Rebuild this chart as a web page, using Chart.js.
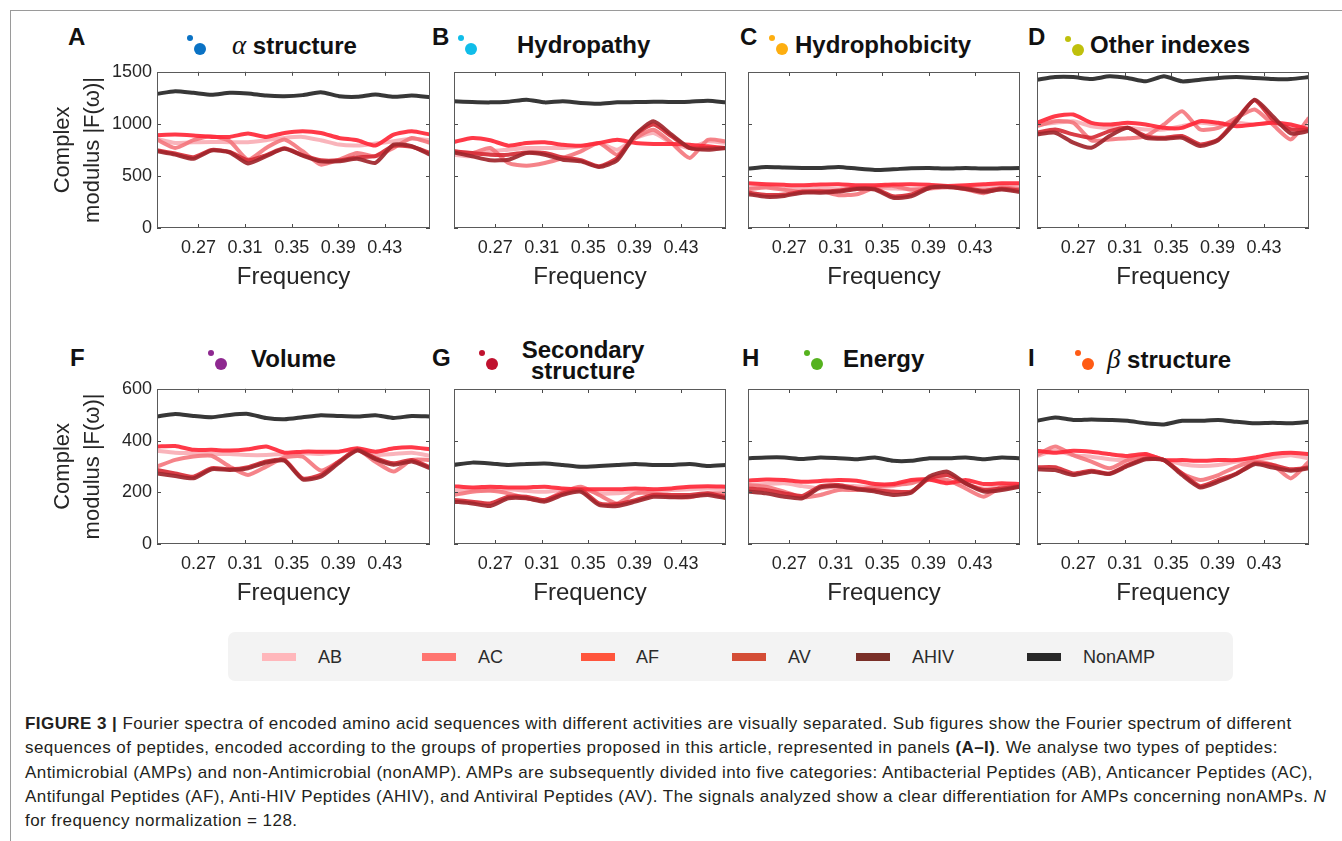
<!DOCTYPE html>
<html>
<head>
<meta charset="utf-8">
<script src="https://cdn.jsdelivr.net/npm/chart.js@4.4.1/dist/chart.umd.min.js"></script>
<style>
body{margin:0;background:#fff;width:1342px;height:841px;overflow:hidden;position:relative;font-family:"Liberation Sans",Arial,sans-serif;color:#1a1a1a}
.abs{position:absolute}
.frame{left:10px;top:10px;right:0;bottom:0;border-left:1px solid #9a9a9a;border-top:1px solid #9a9a9a}
.letter{font-weight:bold;font-size:24px;line-height:24px;color:#111}
.ttl{font-weight:bold;font-size:24px;line-height:24px;color:#111;white-space:nowrap}
.greek{font-family:"Liberation Serif","DejaVu Serif",serif;font-style:italic;font-weight:normal;font-size:27px}
.dot{border-radius:50%}
#legend{left:228px;top:632px;width:1005px;height:49px;background:#f3f3f3;border-radius:7px}
.sw{height:8px;width:34px}
.lab{font-size:18px;line-height:20px;color:#2b2b2b}
#caption{left:25px;top:712px;font-size:17px;letter-spacing:0.44px;line-height:24.3px;white-space:nowrap;color:#231f20}
</style>
</head>
<body>
<div class="abs frame"></div>

<div class="abs letter" style="left:68px;top:25px">A</div>
<div class="abs letter" style="left:432px;top:25px">B</div>
<div class="abs letter" style="left:740px;top:25px">C</div>
<div class="abs letter" style="left:1028px;top:25px">D</div>
<div class="abs letter" style="left:70px;top:346px">F</div>
<div class="abs letter" style="left:432px;top:346px">G</div>
<div class="abs letter" style="left:742px;top:346px">H</div>
<div class="abs letter" style="left:1028px;top:346px">I</div>

<div class="abs ttl" style="left:232px;top:33px"><span class="greek">α</span> structure</div>
<div class="abs ttl" style="left:517px;top:33px">Hydropathy</div>
<div class="abs ttl" style="left:795px;top:33px">Hydrophobicity</div>
<div class="abs ttl" style="left:1090px;top:33px">Other indexes</div>
<div class="abs ttl" style="left:251px;top:347px">Volume</div>
<div class="abs ttl" style="left:483px;top:339px;width:200px;text-align:center;line-height:21px">Secondary<br>structure</div>
<div class="abs ttl" style="left:843px;top:347px">Energy</div>
<div class="abs ttl" style="left:1107px;top:347px"><span class="greek">β</span> structure</div>

<div id="dots"></div>
<div id="charts"></div>
<div id="legend" class="abs"></div>

<div id="caption" class="abs">
<b>FIGURE 3 |</b> Fourier spectra of encoded amino acid sequences with different activities are visually separated. Sub figures show the Fourier spectrum of different<br>
sequences of peptides, encoded according to the groups of properties proposed in this article, represented in panels <b>(A–I)</b>. We analyse two types of peptides:<br>
Antimicrobial (AMPs) and non-Antimicrobial (nonAMP). AMPs are subsequently divided into five categories: Antibacterial Peptides (AB), Anticancer Peptides (AC),<br>
Antifungal Peptides (AF), Anti-HIV Peptides (AHIV), and Antiviral Peptides (AV). The signals analyzed show a clear differentiation for AMPs concerning nonAMPs. <i>N</i><br>
for frequency normalization = 128.
</div>

<script>
// frequency samples (k/128) and axis ticks
const freqs = [0.234375, 0.25, 0.265625, 0.28125, 0.296875, 0.3125, 0.328125, 0.34375,
               0.359375, 0.375, 0.390625, 0.40625, 0.421875, 0.4375, 0.453125, 0.46875];
const xTickVals = [0.27, 0.31, 0.35, 0.39, 0.43];
const yTicksTop = [0, 500, 1000, 1500];
const yTicksBottom = [0, 200, 400, 600];

const seriesNames = ['AB', 'AC', 'AF', 'AV', 'AHIV', 'NonAMP'];
const lineColors = ['rgba(248,172,180,0.9)', 'rgba(244,118,124,0.9)', 'rgba(255,40,56,0.92)',
                    'rgba(214,44,54,0.92)', 'rgba(160,38,44,0.92)', 'rgba(44,44,44,0.95)'];
const legendColors = ['#ffb7bb', '#ff7570', '#ff553c', '#d44d36', '#7a2f28', '#282828'];

// A - alpha structure
const A_AB   = [856,817,824,827,824,824,843,865,875,843,801,792,811,833,856,843];
const A_AC   = [849,769,843,881,833,657,769,849,737,609,657,721,689,769,865,817];
const A_AF   = [891,897,888,875,875,907,875,913,929,913,865,843,792,897,929,897];
const A_AV   = [747,715,680,750,730,650,700,765,700,650,650,680,690,790,780,720];
const A_AHIV = [737,705,665,745,725,620,690,760,695,640,640,665,625,800,785,705];
const A_NON  = [1288,1314,1298,1279,1298,1292,1272,1266,1276,1304,1266,1260,1282,1260,1272,1256];

// B - hydropathy
const B_AB   = [705,689,737,753,769,769,769,785,817,753,865,913,817,769,833,817];
const B_AC   = [737,721,769,625,599,625,673,737,817,705,865,945,817,673,849,833];
const B_AF   = [827,865,843,792,817,824,801,792,817,849,817,808,808,801,785,769];
const B_AV   = [737,721,705,705,727,721,679,651,593,673,897,994,881,769,769,769];
const B_AHIV = [727,689,651,657,721,705,657,641,587,651,897,1026,897,769,753,769];
const B_NON  = [1218,1211,1208,1215,1234,1208,1218,1202,1195,1208,1211,1215,1211,1215,1224,1208];

// C - hydrophobicity
const C_AB   = [389,399,380,373,380,373,389,389,380,373,380,389,399,399,405,399];
const C_AC   = [373,389,367,348,357,316,325,389,405,367,380,399,373,335,389,373];
const C_AF   = [431,421,415,411,418,421,411,411,418,421,415,405,411,421,431,431];
const C_AV   = [341,318,322,350,350,360,383,378,305,322,392,400,383,360,378,360];
const C_AHIV = [325,300,308,340,340,350,376,370,290,305,385,395,376,348,370,345];
const C_NON  = [571,587,581,577,577,587,571,558,565,574,577,571,577,571,574,577];

// D - other indexes
const D_AB   = [995,1011,1027,979,963,963,947,947,979,1011,995,1011,995,1011,963,979];
const D_AC   = [979,1027,1011,843,852,862,884,995,1123,947,963,1059,1139,995,852,1059];
const D_AF   = [1011,1075,1091,1011,995,1011,995,963,963,1027,1011,979,995,1011,995,947];
const D_AV   = [916,947,900,868,932,963,884,868,884,804,852,1043,1228,1043,947,947];
const D_AHIV = [900,916,820,772,884,963,868,858,868,788,846,1027,1234,1075,909,932];
const D_NON  = [1426,1451,1451,1432,1458,1442,1410,1458,1410,1426,1442,1451,1442,1432,1432,1451];

// F - volume
const F_AB   = [361,353,351,348,348,344,344,348,351,348,357,364,344,348,353,341];
const F_AC   = [299,325,338,341,299,267,299,335,338,284,319,364,318,280,325,325];
const F_AF   = [377,379,364,364,361,366,377,353,357,357,357,370,357,370,374,366];
const F_AV   = [286,273,260,293,289,297,319,325,254,267,319,364,332,312,325,297];
const F_AHIV = [273,263,254,289,286,293,315,322,250,260,314,361,328,306,319,293];
const F_NON  = [493,503,495,490,499,503,487,482,490,498,495,493,498,487,495,493];

// G - secondary structure
const G_AB   = [206,209,209,212,206,202,209,215,196,196,202,202,209,212,215,212];
const G_AC   = [190,202,206,196,177,170,202,222,190,157,196,196,183,181,196,196];
const G_AF   = [224,219,222,219,219,222,215,212,212,212,215,212,215,222,224,222];
const G_AV   = [170,164,157,183,183,170,196,209,157,155,170,190,190,190,196,181];
const G_AHIV = [164,157,147,177,177,164,190,202,151,147,164,183,181,183,190,177];
const G_NON  = [306,315,312,306,310,312,306,299,302,306,310,306,306,310,302,306];

// H - energy
const H_AB   = [228,232,235,224,215,222,224,219,224,241,248,241,228,215,222,224];
const H_AC   = [228,222,203,181,190,209,209,222,228,235,254,248,215,183,222,222];
const H_AF   = [245,250,248,241,244,248,245,232,232,248,250,235,248,232,235,232];
const H_AV   = [215,209,196,186,224,228,215,209,203,203,254,267,235,209,215,224];
const H_AHIV = [203,196,183,177,219,224,212,203,190,199,261,280,235,203,209,222];
const H_NON  = [332,335,335,329,335,332,328,335,322,322,332,332,335,328,335,332];

// I - beta structure
const I_AB   = [341,361,344,338,328,325,335,325,309,302,306,319,325,335,344,331];
const I_AC   = [344,377,344,319,293,325,344,325,273,248,267,299,319,306,254,319];
const I_AF   = [361,353,361,357,348,341,348,325,325,322,325,325,335,348,353,348];
const I_AV   = [297,297,273,284,273,306,331,325,273,224,248,273,312,306,289,297];
const I_AHIV = [289,286,267,280,271,302,328,325,267,219,241,271,309,296,284,293];
const I_NON  = [477,490,480,482,480,477,467,463,477,477,480,473,467,469,467,473];

const panels = [
    {series: [A_AB, A_AC, A_AF, A_AV, A_AHIV, A_NON], yTicks: yTicksTop, left: 157, top: 72, w: 273, h: 156, yLabels: true},
    {series: [B_AB, B_AC, B_AF, B_AV, B_AHIV, B_NON], yTicks: yTicksTop, left: 454, top: 72, w: 272, h: 156, yLabels: false},
    {series: [C_AB, C_AC, C_AF, C_AV, C_AHIV, C_NON], yTicks: yTicksTop, left: 748, top: 72, w: 272, h: 156, yLabels: false},
    {series: [D_AB, D_AC, D_AF, D_AV, D_AHIV, D_NON], yTicks: yTicksTop, left: 1037, top: 72, w: 272, h: 156, yLabels: false},
    {series: [F_AB, F_AC, F_AF, F_AV, F_AHIV, F_NON], yTicks: yTicksBottom, left: 157, top: 389, w: 273, h: 155, yLabels: true},
    {series: [G_AB, G_AC, G_AF, G_AV, G_AHIV, G_NON], yTicks: yTicksBottom, left: 454, top: 389, w: 272, h: 155, yLabels: false},
    {series: [H_AB, H_AC, H_AF, H_AV, H_AHIV, H_NON], yTicks: yTicksBottom, left: 748, top: 389, w: 272, h: 155, yLabels: false},
    {series: [I_AB, I_AC, I_AF, I_AV, I_AHIV, I_NON], yTicks: yTicksBottom, left: 1037, top: 389, w: 272, h: 155, yLabels: false}
];

// title dots: [cx, cy, colour] small dot then big dot offset
const dotSpots = [[190,38,'#0a72c4'], [461,38,'#10bde9'], [772,38,'#fdae10'], [1068,39,'#bfc00c'],
                  [211,353,'#8e2890'], [482,353,'#c0122f'], [807,353,'#55b21e'], [1078,353,'#ff5b14']];

var dotsBox = document.getElementById('dots');
dotSpots.forEach(function(d) {
    var s = document.createElement('div');
    s.className = 'abs dot';
    s.style.cssText = 'left:' + (d[0] - 3) + 'px;top:' + (d[1] - 3) + 'px;width:6px;height:6px;background:' + d[2];
    dotsBox.appendChild(s);
    var b = document.createElement('div');
    b.className = 'abs dot';
    b.style.cssText = 'left:' + (d[0] + 4) + 'px;top:' + (d[1] + 5) + 'px;width:12px;height:12px;background:' + d[2];
    dotsBox.appendChild(b);
});

// legend
const legendSwatchX = [34, 194, 353, 504, 628, 799];
const legendLabelX = [90, 250, 408, 560, 684, 855];
var legendBox = document.getElementById('legend');
seriesNames.forEach(function(name, i) {
    var sw = document.createElement('div');
    sw.className = 'abs sw';
    sw.style.cssText = 'left:' + legendSwatchX[i] + 'px;top:21px;background:' + legendColors[i];
    legendBox.appendChild(sw);
    var lb = document.createElement('div');
    lb.className = 'abs lab';
    lb.style.cssText = 'left:' + legendLabelX[i] + 'px;top:15px';
    lb.textContent = name;
    legendBox.appendChild(lb);
});

// box with inward ticks, like the matlab axes
const boxTicks = {
    id: 'boxTicks',
    afterDatasetsDraw(chart) {
        const ctx = chart.ctx, a = chart.chartArea;
        const x = chart.scales.x, y = chart.scales.y;
        ctx.save();
        ctx.strokeStyle = '#4a4a4a';
        ctx.lineWidth = 1;
        ctx.beginPath();
        x.ticks.forEach(function(t) {
            var px = Math.round(x.getPixelForValue(t.value)) + 0.5;
            ctx.moveTo(px, a.bottom); ctx.lineTo(px, a.bottom - 4);
            ctx.moveTo(px, a.top); ctx.lineTo(px, a.top + 4);
        });
        y.ticks.forEach(function(t) {
            var py = Math.round(y.getPixelForValue(t.value)) + 0.5;
            ctx.moveTo(a.left, py); ctx.lineTo(a.left + 4, py);
            ctx.moveTo(a.right, py); ctx.lineTo(a.right - 4, py);
        });
        ctx.stroke();
        ctx.strokeStyle = '#5a5a5a';
        ctx.strokeRect(Math.round(a.left) + 0.5, Math.round(a.top) + 0.5, Math.round(a.width) - 1, Math.round(a.height) - 1);
        ctx.restore();
    }
};

Chart.defaults.font.family = '"Liberation Sans", Arial, sans-serif';

function makePanel(p, lpad, W, H) {
    var holder = document.createElement('div');
    holder.className = 'abs';
    var canvas = document.createElement('canvas');
    canvas.width = W; canvas.height = H;
    canvas.style.width = W + 'px'; canvas.style.height = H + 'px';
    holder.appendChild(canvas);
    document.getElementById('charts').appendChild(holder);

    // NonAMP first so it sits on top, AB drawn underneath
    var datasets = [5, 4, 3, 2, 1, 0].map(function(k) {
        return {
            label: seriesNames[k],
            data: freqs.map(function(f, i) { return {x: f, y: p.series[k][i]}; }),
            borderColor: lineColors[k],
            borderWidth: 4,
            pointRadius: 0,
            pointHoverRadius: 0,
            tension: 0.2,
            clip: 0
        };
    });

    var chart = new Chart(canvas, {
        type: 'line',
        data: {datasets: datasets},
        plugins: [boxTicks],
        options: {
            responsive: false,
            animation: false,
            layout: {padding: {top: 10, right: 10, left: 0, bottom: 0}},
            plugins: {legend: {display: false}, tooltip: {enabled: false}},
            scales: {
                x: {
                    type: 'linear', min: 30 / 128, max: 60 / 128,
                    afterBuildTicks: function(s) { s.ticks = xTickVals.map(function(v) { return {value: v}; }); },
                    afterFit: function(s) { s.height = 64; },
                    grid: {display: false, drawTicks: false},
                    border: {display: false},
                    ticks: {font: {size: 18}, color: '#262626', padding: 9, maxRotation: 0, autoSkip: false,
                            callback: function(v) { return v.toFixed(2); }},
                    title: {display: true, text: 'Frequency', font: {size: 24}, color: '#262626', padding: {top: 0, bottom: 0}}
                },
                y: {
                    type: 'linear', min: 0, max: p.yTicks[p.yTicks.length - 1],
                    afterBuildTicks: function(s) { s.ticks = p.yTicks.map(function(v) { return {value: v}; }); },
                    afterFit: function(s) { s.width = lpad; },
                    grid: {display: false, drawTicks: false},
                    border: {display: false},
                    ticks: {display: p.yLabels, font: {size: 18}, color: '#262626', padding: 5,
                            callback: function(v) { return String(v); }},
                    title: {display: p.yLabels, text: ['Complex', 'modulus |F(ω)|'], font: {size: 22, lineHeight: 1.36},
                            color: '#262626', padding: {top: 8, bottom: 0}}
                }
            }
        }
    });
    return {chart: chart, holder: holder};
}

panels.forEach(function(p) {
    var lpad = p.yLabels ? p.left - 40 : 12;
    var W = lpad + p.w + 10, H = 10 + p.h + 64;
    var made = makePanel(p, lpad, W, H);
    // label overflow can eat a few pixels: rebuild with a bigger canvas until the plot box has the wanted size
    for (var it = 0; it < 3; it++) {
        var a = made.chart.chartArea;
        var dh = Math.round(p.h - (a.bottom - a.top)), dw = Math.round(p.w - (a.right - a.left));
        if (dh === 0 && dw === 0) break;
        made.chart.destroy();
        made.holder.remove();
        H += dh; W += dw;
        made = makePanel(p, lpad, W, H);
    }
    made.holder.style.left = (p.left - made.chart.chartArea.left) + 'px';
    made.holder.style.top = (p.top - made.chart.chartArea.top) + 'px';
});
</script>
</body>
</html>
